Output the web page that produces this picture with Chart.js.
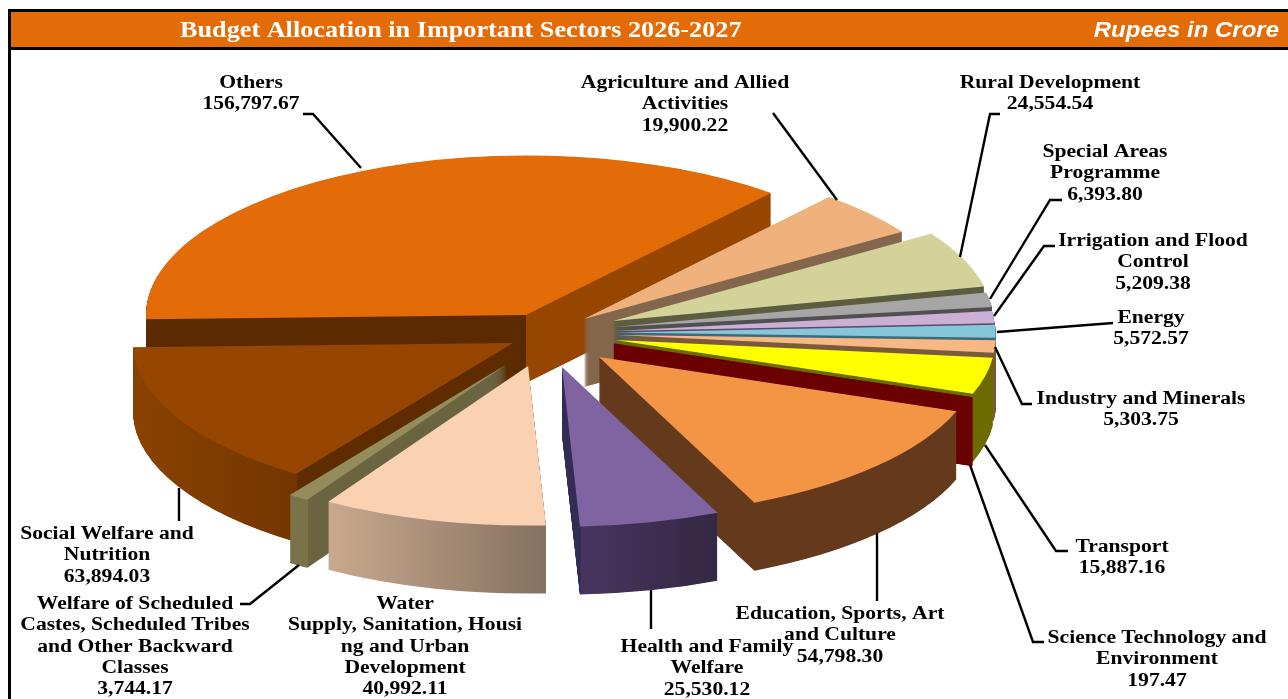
<!DOCTYPE html>
<html><head><meta charset="utf-8">
<script src="https://cdn.jsdelivr.net/npm/chart.js@4/dist/chart.umd.min.js"></script>
<style>html,body{margin:0;padding:0;background:#fff}canvas{display:block}</style>
</head><body><canvas id="c" width="1288" height="699"></canvas>
<script>
const categories = ["Others","Agriculture and Allied Activities","Rural Development","Special Areas Programme","Irrigation and Flood Control","Energy","Industry and Minerals","Transport","Science Technology and Environment","Education, Sports, Art and Culture","Health and Family Welfare","Water Supply, Sanitation, Housing and Urban Development","Welfare of Scheduled Castes, Scheduled Tribes and Other Backward Classes","Social Welfare and Nutrition"];
const values = [156797.67,19900.22,24554.54,6393.80,5209.38,5572.57,5303.75,15887.16,197.47,54798.30,25530.12,40992.11,3744.17,63894.03];
const labelLines = [["Others"],["Agriculture and Allied","Activities"],["Rural Development"],["Special Areas","Programme"],["Irrigation and Flood","Control"],["Energy"],["Industry and Minerals"],["Transport"],["Science Technology and","Environment"],["Education, Sports, Art","and Culture"],["Health and Family","Welfare"],["Water","Supply, Sanitation, Housi","ng and Urban","Development"],["Welfare of Scheduled","Castes, Scheduled Tribes","and Other Backward","Classes"],["Social Welfare and","Nutrition"]];
const topColors = ["#E36C09","#EFB27C","#D3D399","#A6A6A6","#CCAFD4","#86C6DA","#F7B884","#FFFF00","#6B0000","#F49546","#8064A2","#FAD2B2","#948C5A","#964600"];
const wallStops = [
 [[526,"#5C2A00"],[526,"#964600"]],
 [[0,"#84664C"]],[[0,"#5C5C40"]],[[0,"#505050"]],[[0,"#5A4A66"]],[[0,"#3D6A7A"]],[[0,"#7A5A3C"]],
 [[0,"#6B6B00"]],[[0,"#6B0000"]],[[0,"#653A1C"]],
 [[581,"#352C55"],[581,"#47355F"],[718,"#332843"]],
 [[329,"#C9A98F"],[546,"#85715F"]],
 [[308,"#7A7349"],[308,"#6A6440"]],
 [[133,"#8A4200"],[297,"#733600"],[297,"#5E2C00"]]
];
const apexes = [[526,315],[584,319],[613,321],[615,327],[615,331],[615.5,332.5],[616,335],[615,340],[614,343.5],[599,357],[562,367],[528,366],[507,364],[513,343]];
const paintOrder = [0,1,2,3,4,5,6,7,8,9,13,12,11,10];
const labelPos = [[251,82],[685,82],[1050,82],[1105,151],[1153,240],[1151,317],[1141,398],[1122,546],[1157,637],[840,613],[707,646],[405,603],[135,603],[107,533]];
const leaders = [
 [[303,114],[313,114],[361,168]],[[773,113],[837,200]],[[1000,114],[990,114],[960,257]],
 [[1062,200],[1050,200],[990,299]],[[1055,246],[1044,246],[994,316]],[[1113,323],[997,332]],
 [[1032,404],[1022,404],[995,347]],[[1068,551],[1056,551],[985,445]],[[1044,642],[1033,642],[970,465]],
 [[877,533],[877,601]],[[651,590],[651,629]],[[240,604],[250,604],[299,565]],[[179,488],[179,521]]
];
const titleText = "Budget Allocation in Important Sectors 2026-2027";
const unitText = "Rupees in Crore";
const squash = 0.42, depth = 68, pieRadius = 380, labelStretch = 1.2, sliverIndex = 8;

function stretched(ctx, text, x, y, font, sx, align){
  ctx.save();ctx.font=font;ctx.textAlign=align;ctx.textBaseline="middle";
  ctx.translate(x,y);ctx.scale(sx,1);ctx.fillText(text,0,0);ctx.restore();
}
const piePlugin = {
  id:"pie3d",
  beforeDraw(chart){
    const ctx=chart.ctx;ctx.save();
    ctx.fillStyle="#000";ctx.fillRect(8,9,1280,3);ctx.fillRect(8,47,1280,3);ctx.fillRect(8,9,3,690);
    ctx.fillStyle="#E36C09";ctx.fillRect(11,12,1277,35);
    ctx.fillStyle="#fff";
    stretched(ctx,titleText,180,31,"bold 23px 'Liberation Serif'",1.14,"left");
    stretched(ctx,unitText,1279,30.5,"italic bold 22px 'Liberation Sans'",1.09,"right");
    ctx.restore();
  },
  beforeDatasetDraw(chart,args){
    const ctx=chart.ctx, arcs=chart.getDatasetMeta(args.index).data;
    paintOrder.forEach(i=>{
      const arc=arcs[i],[ax,ay]=apexes[i],tx=ax-arc.x;
      const grad=ctx.createLinearGradient(-tx,0,1288-tx,0);
      wallStops[i].forEach(([x,c])=>grad.addColorStop(x/1288,c));
      const wall=Object.create(arc);
      wall.options=Object.assign({},arc.options,{backgroundColor:grad,borderWidth:i===sliverIndex?2:0,borderColor:topColors[i]});
      for(let d=depth;d>=0;d-=0.5){
        ctx.save();ctx.translate(tx,ay+d);ctx.scale(1,squash);ctx.translate(0,-arc.y);
        (d===0?arc:wall).draw(ctx);
        ctx.restore();
      }
    });
    return false;
  },
  afterDraw(chart){
    const ctx=chart.ctx;ctx.save();
    ctx.strokeStyle="#000";ctx.lineWidth=2.4;ctx.lineJoin="miter";
    leaders.forEach(l=>{ctx.beginPath();l.forEach(([x,y],k)=>k?ctx.lineTo(x,y):ctx.moveTo(x,y));ctx.stroke();});
    ctx.fillStyle="#000";
    categories.forEach((c,i)=>{
      const lines=labelLines[i].concat(values[i].toLocaleString("en-US",{minimumFractionDigits:2,maximumFractionDigits:2}));
      lines.forEach((t,k)=>stretched(ctx,t,labelPos[i][0],labelPos[i][1]+1.5+k*21.3,"bold 18px 'Liberation Serif'",labelStretch,"center"));
    });
    ctx.restore();
  }
};
new Chart(document.getElementById("c"),{
  type:"pie",
  data:{labels:categories,datasets:[{data:values,backgroundColor:topColors,borderWidth:0,radius:pieRadius,clip:false}]},
  options:{responsive:false,animation:false,rotation:-91.5,layout:{padding:0},
    events:[],plugins:{legend:{display:false},tooltip:{enabled:false},title:{display:false}}},
  plugins:[piePlugin]
});
</script></body></html>
